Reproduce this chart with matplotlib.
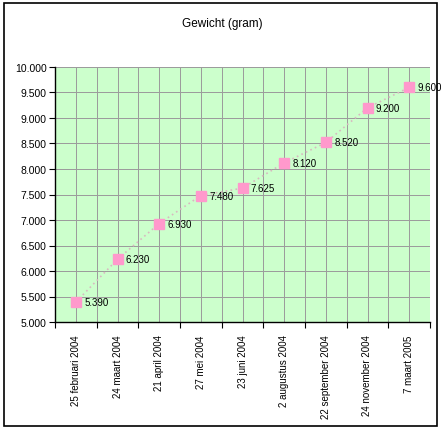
import matplotlib
matplotlib.use("Agg")
import matplotlib.pyplot as plt
from matplotlib.patches import Rectangle
import numpy as np

categories = ["25 februari 2004", "24 maart 2004", "21 april 2004", "27 mei 2004",
              "23 juni 2004", "2 augustus 2004", "22 september 2004",
              "24 november 2004", "7 maart 2005"]
weights = [5390, 6230, 6930, 7480, 7625, 8120, 8520, 9200, 9600]
labels = ["5.390", "6.230", "6.930", "7.480", "7.625", "8.120", "8.520", "9.200", "9.600"]
yticks = [5000, 5500, 6000, 6500, 7000, 7500, 8000, 8500, 9000, 9500, 10000]
ytick_labels = ["5.000", "5.500", "6.000", "6.500", "7.000", "7.500", "8.000",
                "8.500", "9.000", "9.500", "10.000"]
title = "Gewicht (gram)"

plt.rcParams["font.family"] = ["Liberation Sans", "DejaVu Sans"]

W, H = 444, 431
fig = plt.figure(figsize=(W / 100, H / 100), dpi=100)
fig.patch.set_facecolor("white")
fig.add_artist(Rectangle((4 / W, 1 - 427 / H), 433 / W, 423 / H, transform=fig.transFigure,
                         fill=False, edgecolor="black", linewidth=1.2))

ax = fig.add_axes([55 / W, 1 - 323 / H, 375 / W, 255 / H])
ax.set_facecolor("#CCFFCC")
n = len(categories)
x = np.arange(n)
ax.set_xlim(-0.5, n - 0.5)
ax.set_ylim(5000, 10000)

for v in np.arange(-0.5, n, 0.5):
    ax.axvline(v, color="#9C9C9C", linewidth=0.5, zorder=1, antialiased=False)
for v in yticks:
    ax.axhline(v, color="#9C9C9C", linewidth=0.5, zorder=1, antialiased=False)

ax.plot(x, weights, linestyle=(0, (1, 2)), color="#D8B8C0", linewidth=1.2, zorder=2)
ax.plot(x, weights, linestyle="none", marker="s", markersize=6.8, color="#FF99CC",
        markeredgecolor="#FF99CC", zorder=3)
for xi, w, lab in zip(x, weights, labels):
    ax.annotate(lab, (xi, w), xytext=(6, 0), textcoords="offset points",
                va="center", ha="left", fontsize=7, color="black", zorder=4,
                annotation_clip=False)

ax.set_yticks(yticks)
ax.set_yticklabels(ytick_labels, fontsize=7.5)
ax.set_xticks(np.arange(-0.5, n, 1.0))
ax.set_xticklabels([])
ax.set_xticks(x, minor=True)
ax.set_xticklabels(categories, minor=True, rotation=90, fontsize=7, va="top")
ax.tick_params(axis="x", which="minor", length=0, pad=9)
ax.tick_params(axis="x", which="major", length=4, direction="out")
ax.tick_params(axis="y", length=4, direction="out", pad=2)
for s in ["top", "right"]:
    ax.spines[s].set_visible(False)
for s in ["left", "bottom"]:
    ax.spines[s].set_color("black")
    ax.spines[s].set_linewidth(1.0)

fig.text(0.5, 1 - 24 / H, title, ha="center", va="center", fontsize=8.5)

fig.savefig("out.png", dpi=100, facecolor="white")
